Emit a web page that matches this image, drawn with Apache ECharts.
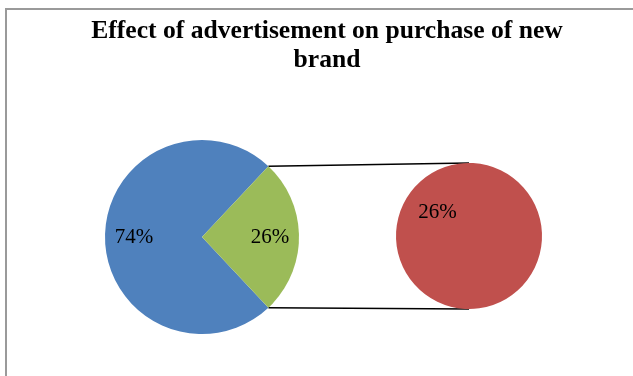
<!DOCTYPE html>
<html>
<head>
<meta charset="utf-8">
<script src="https://cdn.jsdelivr.net/npm/echarts@6/dist/echarts.min.js"></script>
<style>
  html, body { margin: 0; padding: 0; background: #fff; }
  #chart { width: 633px; height: 376px; }
</style>
</head>
<body>
<div id="chart"></div>
<script>
// Shares of respondents (percent)
const categories = ['Not influenced', 'Influenced'];
const shares = [74, 26];
// The "Influenced" slice broken out into its own pie
const breakoutCategories = ['Influenced'];
const breakoutShares = [26];

const titleText = 'Effect of advertisement on purchase of new\nbrand';
const serif = '"Liberation Serif", "Times New Roman", serif';

// Pie geometry (pixels)
const mainCenter = [202, 237];
const mainRadius = 97;
const sideCenter = [469, 236];
const sideRadius = 73;

const total = shares.reduce((a, b) => a + b, 0);
const breakoutSpan = shares[1] / total * 360;      // degrees of the broken-out slice
const mainStart = -breakoutSpan / 2;                // centres that slice on the right

const pct = p => Math.round(p.value / total * 100) + '%';

// Connector lines from the edges of the broken-out slice to the side pie
const rad = a => a * Math.PI / 180;
const edge = sign => [
  mainCenter[0] + mainRadius * Math.cos(rad(breakoutSpan / 2)),
  mainCenter[1] - sign * mainRadius * Math.sin(rad(breakoutSpan / 2))
];
const topEdge = edge(1), bottomEdge = edge(-1);

const labelStyle = {
  show: true,
  position: 'inside',
  formatter: pct,
  fontFamily: serif,
  fontSize: 21,
  color: '#000'
};

const chart = echarts.init(document.getElementById('chart'), null, { renderer: 'canvas' });
chart.setOption({
  backgroundColor: '#fff',
  animation: false,
  title: {
    text: titleText,
    left: 322,
    top: 12,
    textAlign: 'center',
    textStyle: {
      fontFamily: serif,
      fontWeight: 'bold',
      fontSize: 25.6,
      lineHeight: 29,
      color: '#000'
    }
  },
  graphic: [
    {
      type: 'polyline',
      shape: { points: [[6, 400], [6, 9], [640, 9]] },
      style: { stroke: '#9a9a9a', lineWidth: 2, fill: null },
      silent: true
    },
    {
      type: 'line',
      shape: { x1: topEdge[0], y1: topEdge[1], x2: sideCenter[0], y2: sideCenter[1] - sideRadius },
      style: { stroke: '#000', lineWidth: 1.5 },
      silent: true
    },
    {
      type: 'line',
      shape: { x1: bottomEdge[0], y1: bottomEdge[1], x2: sideCenter[0], y2: sideCenter[1] + sideRadius },
      style: { stroke: '#000', lineWidth: 1.5 },
      silent: true
    }
  ],
  series: [
    {
      type: 'pie',
      center: mainCenter,
      radius: [0, mainRadius],
      startAngle: mainStart,
      clockwise: true,
      silent: true,
      label: { show: false },
      labelLine: { show: false },
      data: categories.map((c, i) => ({
        name: c,
        value: shares[i],
        itemStyle: { color: ['#4F81BD', '#9BBB59'][i] }
      }))
    },
    {
      // transparent copy that carries the value labels further out
      type: 'pie',
      center: mainCenter,
      radius: [0, mainRadius * 1.34],
      startAngle: mainStart,
      clockwise: true,
      silent: true,
      z: 3,
      itemStyle: { color: 'transparent' },
      label: labelStyle,
      labelLine: { show: false },
      data: categories.map((c, i) => ({ name: c, value: shares[i] }))
    },
    {
      type: 'pie',
      center: sideCenter,
      radius: [0, sideRadius],
      startAngle: -37,
      silent: true,
      label: labelStyle,
      labelLine: { show: false },
      itemStyle: { color: '#C0504D' },
      data: breakoutCategories.map((c, i) => ({ name: c, value: breakoutShares[i] }))
    }
  ]
});
</script>
</body>
</html>
